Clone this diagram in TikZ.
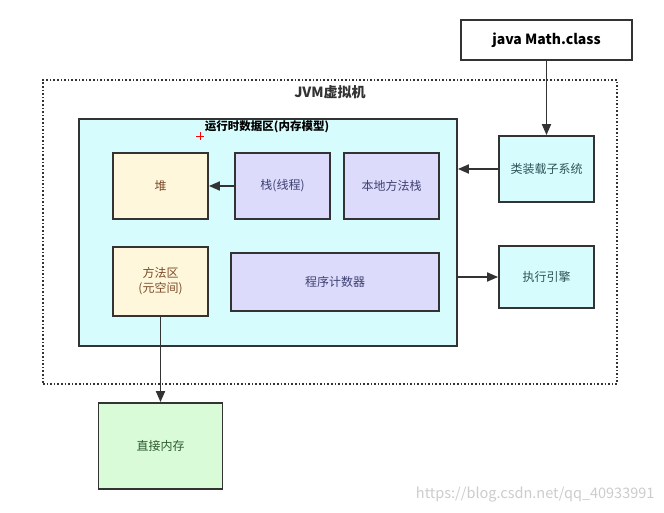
\documentclass[tikz,border=0pt]{standalone}
\usepackage{fontspec}
\setmainfont{Noto Sans CJK SC}
\usetikzlibrary{arrows.meta}
\definecolor{edge}{HTML}{333333}
\definecolor{cyanfill}{HTML}{D6FCFD}
\definecolor{yelfill}{HTML}{FFF7DC}
\definecolor{lavfill}{HTML}{DCDBFC}
\definecolor{grnfill}{HTML}{D9FBD8}
\definecolor{brtext}{HTML}{7A4A28}
\definecolor{bltext}{HTML}{3E4070}
\definecolor{tltext}{HTML}{2E5458}
\definecolor{grtext}{HTML}{2E5A30}
\tikzset{
  x=1pt,y=-1pt,
  boxst/.style={draw=edge,line width=1.8pt,inner sep=0pt,font=\fontsize{12}{15}\selectfont},
  yel/.style={boxst,fill=yelfill,text=brtext},
  lav/.style={boxst,fill=lavfill,text=bltext},
  cy/.style={boxst,fill=cyanfill,text=tltext},
  grn/.style={boxst,fill=grnfill,text=grtext},
  arr/.style={draw=edge,line width=1.8pt,-{Triangle[length=11pt,width=9pt]}}
}
\begin{document}
\begin{tikzpicture}
\useasboundingbox (0,0) rectangle (664,513);
% JVM dotted frame
\node[draw=edge,line width=1.6pt,dotted,minimum width=574,minimum height=304,inner sep=0pt] (jvm) at (330,232) {};
\node[font=\bfseries\fontsize{14}{16}\selectfont,text=edge] (jvmt) at (330,92) {JVM虚拟机};
% java class
\node[draw=edge,line width=1.8pt,fill=white,minimum width=171,minimum height=40,inner sep=0pt,font=\bfseries\fontsize{14}{16}\selectfont,text=black] (java) at (546.5,40) {java Math.class};
% runtime data area
\node[draw=edge,line width=1.8pt,fill=cyanfill,minimum width=378,minimum height=227,inner sep=0pt] (rt) at (268,232.5) {};
\node[font=\bfseries\fontsize{11.5}{13}\selectfont,text=black] (rtt) at (267,127) {运行时数据区(内存模型)};
\draw[red,line width=0.9pt] (196,136) -- (204,136) (200,132) -- (200,140);
% inner boxes
\node[yel,minimum width=95,minimum height=66] (heap) at (160.5,186) {堆};
\node[lav,minimum width=95,minimum height=66] (stack) at (282.5,186) {栈(线程)};
\node[lav,minimum width=95,minimum height=66] (native) at (391.5,186) {本地方法栈};
\node[yel,minimum width=95,minimum height=69,align=center] (method) at (160.5,281.5) {方法区\\(元空间)};
\node[lav,minimum width=208,minimum height=58] (pc) at (335,282) {程序计数器};
% right boxes
\node[cy,minimum width=95,minimum height=66] (loader) at (546.5,169) {类装载子系统};
\node[cy,minimum width=95,minimum height=62] (exec) at (546.5,277) {执行引擎};
% direct memory
\node[grn,minimum width=124,minimum height=86] (direct) at (160.5,446) {直接内存};
% connectors
\draw[arr] (java.south) -- (loader.north);
\draw[arr] (loader.west) -- (loader.west -| rt.east);
\draw[arr] (stack.west) -- (heap.east);
\draw[arr] (exec.west -| rt.east) -- (exec.west);
\draw[arr] (method.south) -- (direct.north);
% watermark
\node[text=black!20,font=\fontsize{14.5}{16}\selectfont,anchor=east] (wm) at (658,495) {https://blog.csdn.net/qq\_40933991};
\end{tikzpicture}
\end{document}
